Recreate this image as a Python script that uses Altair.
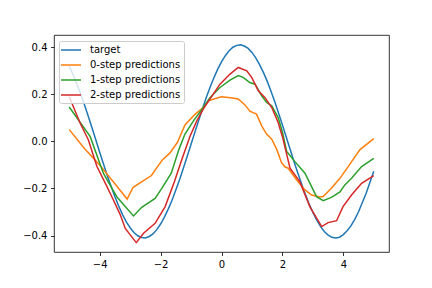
import altair as alt
import pandas as pd

series_names = ["target", "0-step predictions", "1-step predictions", "2-step predictions"]
series_colors = ["#1f77b4", "#ff7f0e", "#2ca02c", "#d62728"]

target_x = [-5, -4.875, -4.75, -4.625, -4.5, -4.375, -4.25, -4.125, -4, -3.875, -3.75, -3.625,
            -3.5, -3.375, -3.25, -3.125, -3, -2.875, -2.75, -2.625, -2.5, -2.375, -2.25, -2.125,
            -2, -1.875, -1.75, -1.625, -1.5, -1.375, -1.25, -1.125, -1, -0.875, -0.75, -0.625,
            -0.5, -0.375, -0.25, -0.125, 0, 0.125, 0.25, 0.375, 0.5, 0.625, 0.75, 0.875, 1,
            1.125, 1.25, 1.375, 1.5, 1.625, 1.75, 1.875, 2, 2.125, 2.25, 2.375, 2.5, 2.625, 2.75,
            2.875, 3, 3.125, 3.25, 3.375, 3.5, 3.625, 3.75, 3.875, 4, 4.125, 4.25, 4.375, 4.5,
            4.625, 4.75, 4.875, 5]
target_y = [0.318, 0.284, 0.244, 0.201, 0.156, 0.107, 0.057, 0.006, -0.046, -0.096, -0.146,
            -0.191, -0.235, -0.275, -0.311, -0.342, -0.367, -0.387, -0.401, -0.408, -0.410,
            -0.404, -0.393, -0.375, -0.351, -0.322, -0.288, -0.250, -0.207, -0.162, -0.113,
            -0.063, -0.012, 0.039, 0.089, 0.139, 0.186, 0.230, 0.270, 0.307, 0.338, 0.364, 0.385,
            0.400, 0.408, 0.410, 0.405, 0.395, 0.378, 0.355, 0.326, 0.293, 0.256, 0.213, 0.168,
            0.120, 0.070, 0.019, -0.032, -0.083, -0.132, -0.179, -0.224, -0.265, -0.302, -0.334,
            -0.361, -0.383, -0.398, -0.407, -0.410, -0.407, -0.396, -0.380, -0.359, -0.331,
            -0.299, -0.260, -0.220, -0.174, -0.127]

step0_x = [-5, -4.5, -4, -3.5, -3.1, -2.9, -2.6, -2.3, -2.1, -1.95, -1.7, -1.45, -1.2, -0.87,
           -0.6, -0.43, -0.2, 0.0, 0.3, 0.55, 0.77, 0.93, 1.15, 1.32, 1.48, 1.65, 1.81, 1.97,
           2.08, 2.19, 2.47, 2.74, 2.96, 3.23, 3.34, 3.6, 3.89, 4.16, 4.54, 5.0]
step0_y = [0.05, -0.03, -0.10, -0.18, -0.245, -0.195, -0.17, -0.145, -0.107, -0.08, -0.05,
           -0.005, 0.07, 0.115, 0.144, 0.172, 0.182, 0.19, 0.185, 0.18, 0.155, 0.128, 0.116,
           0.066, 0.031, 0.009, -0.033, -0.09, -0.108, -0.114, -0.164, -0.206, -0.228, -0.236,
           -0.234, -0.2, -0.157, -0.107, -0.036, 0.012]

step1_x = [-5, -4.31, -3.88, -3.44, -2.89, -2.62, -2.18, -1.96, -1.65, -1.4, -1.2, -0.92, -0.6,
           -0.38, -0.05, 0.28, 0.55, 0.71, 0.93, 1.1, 1.32, 1.48, 1.65, 1.86, 2.0, 2.14, 2.41,
           2.74, 3.12, 3.34, 3.61, 3.89, 4.05, 4.27, 4.6, 5.0]
step1_y = [0.146, 0.02, -0.135, -0.235, -0.317, -0.28, -0.242, -0.2, -0.135, -0.035, 0.031,
           0.087, 0.144, 0.186, 0.229, 0.26, 0.28, 0.272, 0.25, 0.243, 0.194, 0.165, 0.151,
           0.101, 0.04, -0.043, -0.086, -0.135, -0.235, -0.252, -0.238, -0.215, -0.185, -0.157,
           -0.107, -0.072]

step2_x = [-5, -4.64, -4.37, -4.09, -3.76, -3.55, -3.33, -3.16, -2.8, -2.56, -2.18, -1.85, -1.55,
           -1.3, -1.03, -0.81, -0.6, -0.27, -0.05, 0.28, 0.55, 0.83, 0.99, 1.21, 1.43, 1.65,
           1.86, 2.0, 2.25, 2.57, 2.9, 3.29, 3.5, 3.78, 3.99, 4.27, 4.6, 5.0]
step2_y = [0.19, 0.077, 0.006, -0.107, -0.192, -0.249, -0.31, -0.37, -0.43, -0.39, -0.348,
           -0.277, -0.173, -0.076, 0.023, 0.087, 0.137, 0.201, 0.243, 0.286, 0.314, 0.3, 0.272,
           0.215, 0.186, 0.144, 0.08, 0.02, -0.114, -0.171, -0.277, -0.362, -0.345, -0.337,
           -0.277, -0.228, -0.178, -0.145]

x_ticks = [-4, -2, 0, 2, 4]
y_ticks = [-0.4, -0.2, 0.0, 0.2, 0.4]

frames = []
for i, (name, xs, ys) in enumerate(zip(series_names,
                                       [target_x, step0_x, step1_x, step2_x],
                                       [target_y, step0_y, step1_y, step2_y])):
    frames.append(pd.DataFrame({"series": name, "x": xs, "y": ys, "k": i}))
df = pd.concat(frames, ignore_index=True)

FONT = "DejaVu Sans"

chart = alt.Chart(df).mark_line(strokeWidth=1.5).encode(
    x=alt.X("x:Q",
            scale=alt.Scale(domain=[-5.5, 5.5], nice=False, zero=False),
            axis=alt.Axis(values=x_ticks, format="d", title=None, grid=False, domain=False,
                          tickSize=3.5, tickWidth=0.8, tickColor="black",
                          labelFont=FONT, labelFontSize=10, labelColor="black",
                          labelPadding=3.5)),
    y=alt.Y("y:Q",
            scale=alt.Scale(domain=[-0.47, 0.452], nice=False, zero=False),
            axis=alt.Axis(values=y_ticks, format=".1f", title=None, grid=False, domain=False,
                          tickSize=3.5, tickWidth=0.8, tickColor="black",
                          labelFont=FONT, labelFontSize=10, labelColor="black",
                          labelPadding=3.5)),
    color=alt.Color("series:N",
                    scale=alt.Scale(domain=series_names, range=series_colors),
                    legend=alt.Legend(title=None, orient="none", legendX=5, legendY=6,
                                      symbolType="M-2,0H2", symbolSize=100,
                                      symbolStrokeWidth=1.5, symbolOffset=3,
                                      labelFont=FONT, labelFontSize=10, labelColor="black",
                                      labelOffset=13, rowPadding=4, padding=3,
                                      fillColor="rgba(255,255,255,0.8)",
                                      strokeColor="#cccccc", cornerRadius=2)),
    order=alt.Order("x:Q"),
    detail="k:N",
).properties(
    width=335, height=217,
    autosize=alt.AutoSizeParams(type="none"),
    padding={"left": 46, "top": 27, "right": 30, "bottom": 30},
).configure_view(stroke="black", strokeWidth=0.8)

chart.save("out.html", embed_options={"renderer": "svg", "actions": False})
